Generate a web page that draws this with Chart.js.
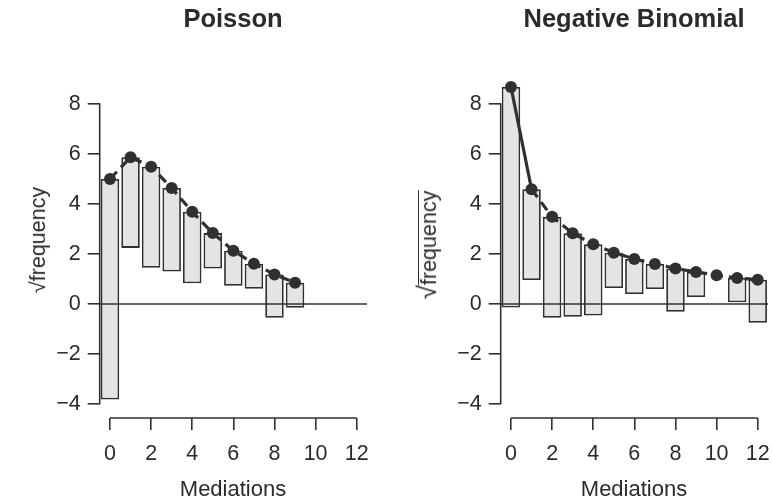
<!DOCTYPE html>
<html>
<head>
<meta charset="utf-8">
<script src="https://cdn.jsdelivr.net/npm/chart.js@4"></script>
<style>
	body { margin: 0; background: #fff; }
	#wrap { position: relative; width: 772px; height: 503px; overflow: hidden; font-family: 'Liberation Sans', Arial, Helvetica, sans-serif; color: #2b2b2b; }
	canvas { position: absolute; top: 0; }
	.title { position: absolute; top: 6px; font-size: 25.5px; line-height: 25px; font-weight: bold; transform: translateX(-50%); white-space: nowrap; }
	.xlab { position: absolute; top: 479px; font-size: 22px; line-height: 20px; transform: translateX(-50%); white-space: nowrap; }
	.ylab { position: absolute; font-size: 21.5px; line-height: 22px; transform: translate(-50%, -50%) rotate(-90deg); white-space: nowrap; }
	.over { display: inline-block; border-top: 1.5px solid #2b2b2b; line-height: 19px; padding-top: 1px; }
	.rad { font-size: 26px; }
</style>
</head>
<body>
<div id="wrap">
	<canvas id="pois" width="386" height="503" style="left:0px"></canvas>
	<canvas id="negbin" width="386" height="503" style="left:401px"></canvas>
	<div class="title" style="left:233px">Poisson</div>
	<div class="title" style="left:634px">Negative Binomial</div>
	<div class="xlab" style="left:233px">Mediations</div>
	<div class="xlab" style="left:634px">Mediations</div>
	<div class="ylab" style="left:38px; top:240px">√frequency</div>
	<div class="ylab" style="left:428px; top:245px"><span class="rad">√</span><span class="over">frequency</span></div>
</div>
<script>
// counts 0..12 (Mediations)
const counts = [0, 1, 2, 3, 4, 5, 6, 7, 8, 9, 10, 11, 12];
// observed, sqrt scale (same for both models)
const observedRoot = [8.80, 3.62, 4.03, 3.33, 2.85, 1.41, 1.40, 1.00, 1.73, 1.00, 0, 0.97, 1.72];
// fitted, sqrt scale
const poisFitted = [4.99, 5.86, 5.48, 4.63, 3.68, 2.83, 2.13, 1.61, 1.18, 0.85];
const nbFitted = [8.66, 4.58, 3.48, 2.82, 2.39, 2.05, 1.80, 1.60, 1.42, 1.28, 1.15, 1.04, 0.97];

const xTicks = [0, 2, 4, 6, 8, 10, 12];
const yTicks = [-4, -2, 0, 2, 4, 6, 8];

const ink = '#2e3033';

Chart.defaults.font.family = "'Liberation Sans', Arial, Helvetica, sans-serif";
Chart.defaults.font.size = 21.5;
Chart.defaults.color = '#2b2b2b';

// R style axes: lines only from first to last tick, plus the zero line
const rAxes = {
	id: 'rAxes',
	beforeDatasetsDraw(chart) {
		const {ctx, scales: {x, y}, chartArea} = chart;
		ctx.save();
		ctx.strokeStyle = ink;
		ctx.lineWidth = 1.6;
		ctx.beginPath();
		ctx.moveTo(chartArea.left, y.getPixelForValue(yTicks[0]));
		ctx.lineTo(chartArea.left, y.getPixelForValue(yTicks[yTicks.length - 1]));
		ctx.moveTo(x.getPixelForValue(xTicks[0]), chartArea.bottom);
		ctx.lineTo(x.getPixelForValue(xTicks[xTicks.length - 1]), chartArea.bottom);
		ctx.stroke();
		ctx.restore();
	},
	afterDatasetsDraw(chart) {
		const {ctx, scales: {y}, chartArea} = chart;
		const y0 = y.getPixelForValue(0);
		ctx.save();
		ctx.strokeStyle = ink;
		ctx.lineWidth = 1.4;
		ctx.beginPath();
		ctx.moveTo(chartArea.left, y0);
		ctx.lineTo(chartArea.right, y0);
		ctx.stroke();
		ctx.restore();
	}
};

function rootogram(id, fitted, solidFirst) {
	const bars = fitted.map((f, i) => {
		const obs = observedRoot[i];
		if (obs === 0) return null;
		return {x: counts[i], y: [f - obs, f]};
	}).filter(b => b);
	const points = fitted.map((f, i) => ({x: counts[i], y: f}));

	return new Chart(document.getElementById(id), {
		type: 'bar',
		data: {
			datasets: [
				{
					type: 'line',
					data: points,
					order: 0,
					borderColor: ink,
					borderWidth: 3.2,
					borderDash: [10, 6],
					segment: {
						borderDash: ctx => (solidFirst && ctx.p0DataIndex === 0) ? [] : [10, 6]
					},
					pointRadius: 6,
					pointBackgroundColor: ink,
					pointBorderWidth: 0,
					tension: 0
				},
				{
					type: 'bar',
					data: bars,
					order: 1,
					backgroundColor: '#e4e4e4',
					borderColor: ink,
					borderWidth: 1.8,
					borderSkipped: false,
					barPercentage: 0.9,
					categoryPercentage: 1
				}
			]
		},
		options: {
			responsive: false,
			animation: false,
			devicePixelRatio: 1,
			layout: {padding: {top: 61, right: 19, left: 0, bottom: 0}},
			plugins: {legend: {display: false}, tooltip: {enabled: false}},
			scales: {
				x: {
					type: 'linear',
					min: -0.5,
					max: 12.5,
					offset: false,
					afterBuildTicks: axis => { axis.ticks = xTicks.map(v => ({value: v})); },
					afterFit: axis => { axis.height = 85; },
					grid: {display: true, offset: false, drawOnChartArea: false, tickLength: 12, color: ink, lineWidth: 1.6},
					border: {display: false},
					ticks: {padding: 11, maxRotation: 0, autoSkip: false}
				},
				y: {
					min: -4.55,
					max: 9.7,
					afterBuildTicks: axis => { axis.ticks = yTicks.map(v => ({value: v})); },
					afterFit: axis => { axis.width = 99.7; },
					grid: {display: true, drawOnChartArea: false, tickLength: 12, color: ink, lineWidth: 1.6},
					border: {display: false},
					ticks: {padding: 7, callback: v => String(v).replace('-', '\u2212')}
				}
			}
		},
		plugins: [rAxes]
	});
}

rootogram('pois', poisFitted, false);
rootogram('negbin', nbFitted, true);
</script>
</body>
</html>
